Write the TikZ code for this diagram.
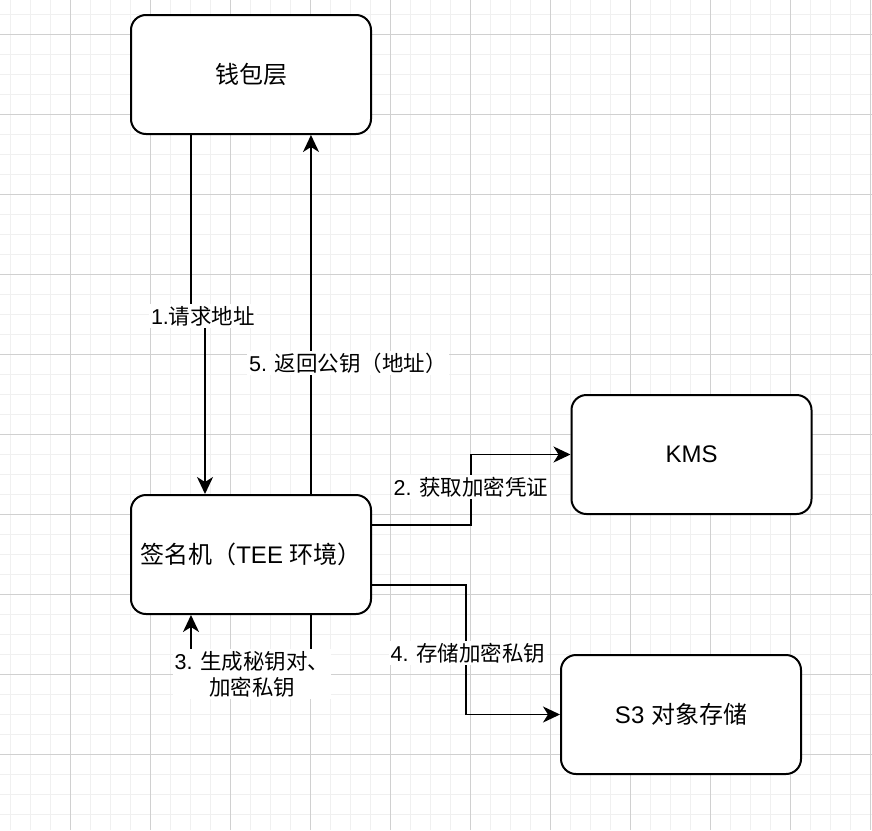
\documentclass[tikz,border=0pt]{standalone}
\usepackage{fontspec}
\setmainfont{Liberation Sans}
\newfontfamily\cjk{Noto Sans CJK SC}
\usetikzlibrary{arrows.meta, positioning}

\definecolor{gridminor}{HTML}{F0F0F0}
\definecolor{gridmajor}{HTML}{D0D0D0}

\tikzset{
    box/.style={draw, line width=2pt, rounded corners=15pt, fill=white,
        minimum width=240pt, minimum height=119pt, font=\fontsize{24}{28}\selectfont},
    conn/.style={line width=1.8pt, -{Stealth[length=17pt, width=16pt, inset=5pt]}},
    lbl/.style={fill=white, inner sep=2pt, align=center, font=\fontsize{21.5}{26}\selectfont},
}

\begin{document}
\begin{tikzpicture}[x=1pt, y=-1pt]
        \useasboundingbox (0,0) rectangle (872,830);

        % background grid
        \foreach \x in {10,30,...,870} \draw[gridminor, line width=1pt] (\x,0) -- (\x,830);
        \foreach \y in {14,34,...,830} \draw[gridminor, line width=1pt] (0,\y) -- (872,\y);
        \foreach \x in {70,150,...,870} \draw[gridmajor, line width=1pt] (\x,0) -- (\x,830);
        \foreach \y in {34,114,...,830} \draw[gridmajor, line width=1pt] (0,\y) -- (872,\y);

        % the four boxes
        \node[box] (wallet) at (251,74.5) {\cjk 钱包层};
        \node[box] (signer) at (251,554.5) {{\cjk 签名机（}TEE {\cjk 环境）}};
        \node[box] (kms) at (691.5,454.5) {KMS};
        \node[box] (s3) at (681,714.5) {S3 {\cjk 对象存储}};

        % 1: wallet asks for an address
        \draw[conn] ([xshift=-60pt]wallet.south) -- ++(0,181) coordinate (c1) -| ([xshift=-46pt]signer.north);
        \node[lbl] (l1) at ([xshift=12pt]c1) {1.{\cjk 请求地址}};

        % 5: public key goes back up
        \draw[conn] ([xshift=60pt]signer.north) -- ([xshift=60pt]wallet.south);
        \node[lbl] (l5) at (348,363) {5. {\cjk 返回公钥（地址）}};

        % 2: fetch credentials from KMS
        \coordinate (k1) at (471,525);
        \draw[conn] (signer.east |- k1) -- (k1) |- (kms.west);
        \node[lbl] (l2) at (471,487) {2. {\cjk 获取加密凭证}};

        % 4: store encrypted key in S3
        \coordinate (s1) at (466,585);
        \draw[conn] (signer.east |- s1) -- (s1) |- (s3.west);
        \node[lbl] (l4) at (468,653) {4. {\cjk 存储加密私钥}};

        % 3: loop back into the signer
        \draw[conn] ([xshift=60pt]signer.south) -- ++(0,60) -| ([xshift=-60pt]signer.south);
        \node[lbl] (l3) at (252,674) {3. {\cjk 生成秘钥对、}\\{\cjk 加密私钥}};
    \end{tikzpicture}
\end{document}
